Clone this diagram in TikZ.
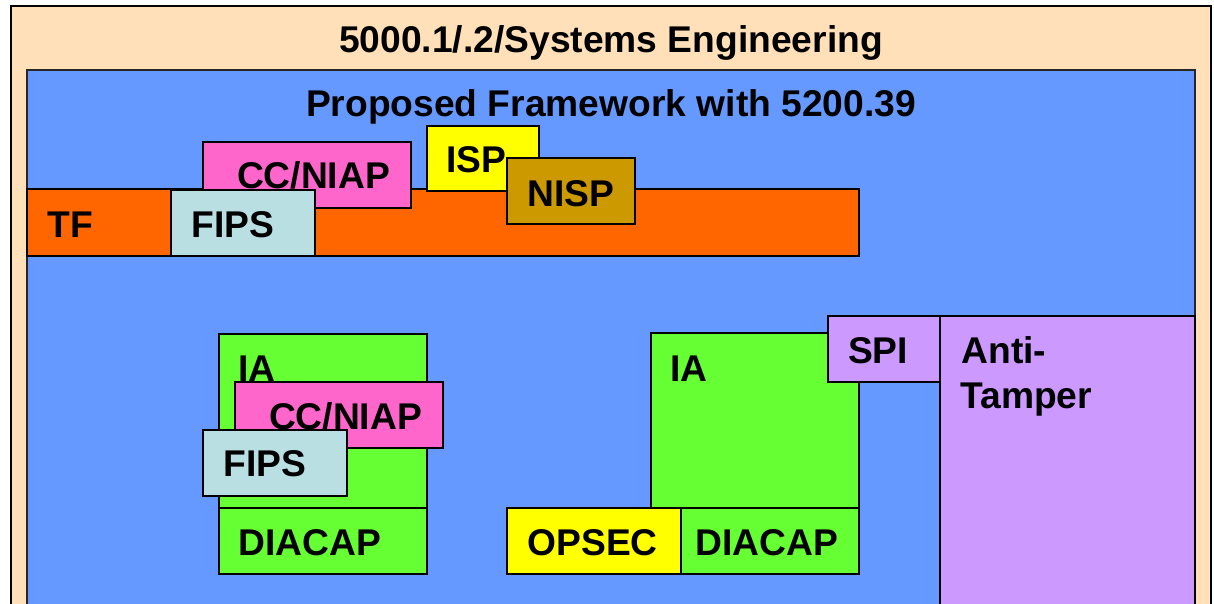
\documentclass[tikz,border=0pt]{standalone}
\usepackage{fontspec}
\setmainfont{Liberation Sans}
\definecolor{peach}{RGB}{255,224,184}
\definecolor{bluebg}{RGB}{102,153,255}
\definecolor{tforange}{RGB}{255,102,0}
\definecolor{ccpink}{RGB}{255,102,204}
\definecolor{fipscyan}{RGB}{185,223,227}
\definecolor{ispyellow}{RGB}{255,255,0}
\definecolor{nispgold}{RGB}{204,153,0}
\definecolor{iagreen}{RGB}{102,255,51}
\definecolor{lavender}{RGB}{204,153,255}
\newcommand{\bigfont}{\fontsize{37.2}{44}\selectfont\bfseries}
\tikzset{
  box/.style={draw=black, line width=1.6pt, anchor=north west, inner sep=0pt, outer sep=0pt},
  lbl/.style={anchor=base west, inner sep=0pt, outer sep=0pt, font=\bigfont, text=black},
  ttl/.style={anchor=base, inner sep=0pt, outer sep=0pt, font=\bigfont, text=black},
}
\begin{document}
\begin{tikzpicture}[x=1pt,y=-1pt]
\useasboundingbox (0,0) rectangle (1214,604);
\clip (0,0) rectangle (1214,604);
\fill[white] (0,0) rectangle (1214,604);
% outer frame
\node[box, line width=2.3pt, fill=peach, minimum width=1200pt, minimum height=660pt] (outer) at (11,6) {};
\node[ttl] (title) at (611,52.5) {5000.1/.2/Systems Engineering};
% blue frame
\node[box, line width=2pt, draw=black!85, fill=bluebg, minimum width=1168pt, minimum height=620pt] (blue) at (27,70) {};
\node[ttl] (subtitle) at (611,116.5) {Proposed Framework with 5200.39};
% top band
\node[box, fill=tforange, minimum width=832pt, minimum height=67pt] (tf) at (27,189) {};
\node[lbl] (tft) at (47.5,237) {TF};
\node[box, fill=ccpink, minimum width=208pt, minimum height=66pt] (cc1) at (203,142) {};
\node[lbl] (cc1t) at (237,188) {CC/NIAP};
\node[box, fill=fipscyan, minimum width=144pt, minimum height=66pt] (fips1) at (171,190) {};
\node[lbl] (fips1t) at (191.5,237) {FIPS};
\node[box, fill=ispyellow, minimum width=112pt, minimum height=65pt] (isp) at (427,126) {};
\node[lbl] (ispt) at (446.5,172.5) {ISP};
\node[box, fill=nispgold, minimum width=128pt, minimum height=66pt] (nisp) at (507,158) {};
\node[lbl] (nispt) at (527.5,206) {NISP};
% left IA stack
\node[box, fill=iagreen, minimum width=208pt, minimum height=174pt] (ia1) at (219,334) {};
\node[lbl] (ia1t) at (238.5,381.5) {IA};
\node[box, fill=iagreen, minimum width=208pt, minimum height=66pt] (dia1) at (219,508) {};
\node[lbl] (dia1t) at (238.5,555) {DIACAP};
\node[box, fill=ccpink, minimum width=208pt, minimum height=66pt] (cc2) at (235,382) {};
\node[lbl] (cc2t) at (269,429) {CC/NIAP};
\node[box, fill=fipscyan, minimum width=144pt, minimum height=66pt] (fips2) at (203,430) {};
\node[lbl] (fips2t) at (223.5,476.5) {FIPS};
% right IA stack
\node[box, fill=iagreen, minimum width=208pt, minimum height=175pt] (ia2) at (651,333) {};
\node[lbl] (ia2t) at (670.5,381) {IA};
\node[box, fill=lavender, minimum width=112pt, minimum height=66pt] (spi) at (828,316) {};
\node[lbl] (spit) at (848,363) {SPI};
\node[box, fill=lavender, minimum width=255pt, minimum height=320pt] (at) at (940,316) {};
\node[lbl] (att1) at (961.5,363) {Anti-};
\node[lbl] (att2) at (960.5,408) {Tamper};
\node[box, fill=ispyellow, minimum width=174pt, minimum height=66pt] (opsec) at (507,508) {};
\node[lbl] (opsect) at (527.5,555) {OPSEC};
\node[box, fill=iagreen, minimum width=178pt, minimum height=66pt] (dia2) at (681,508) {};
\node[lbl] (dia2t) at (695.5,555) {DIACAP};
\end{tikzpicture}
\end{document}
